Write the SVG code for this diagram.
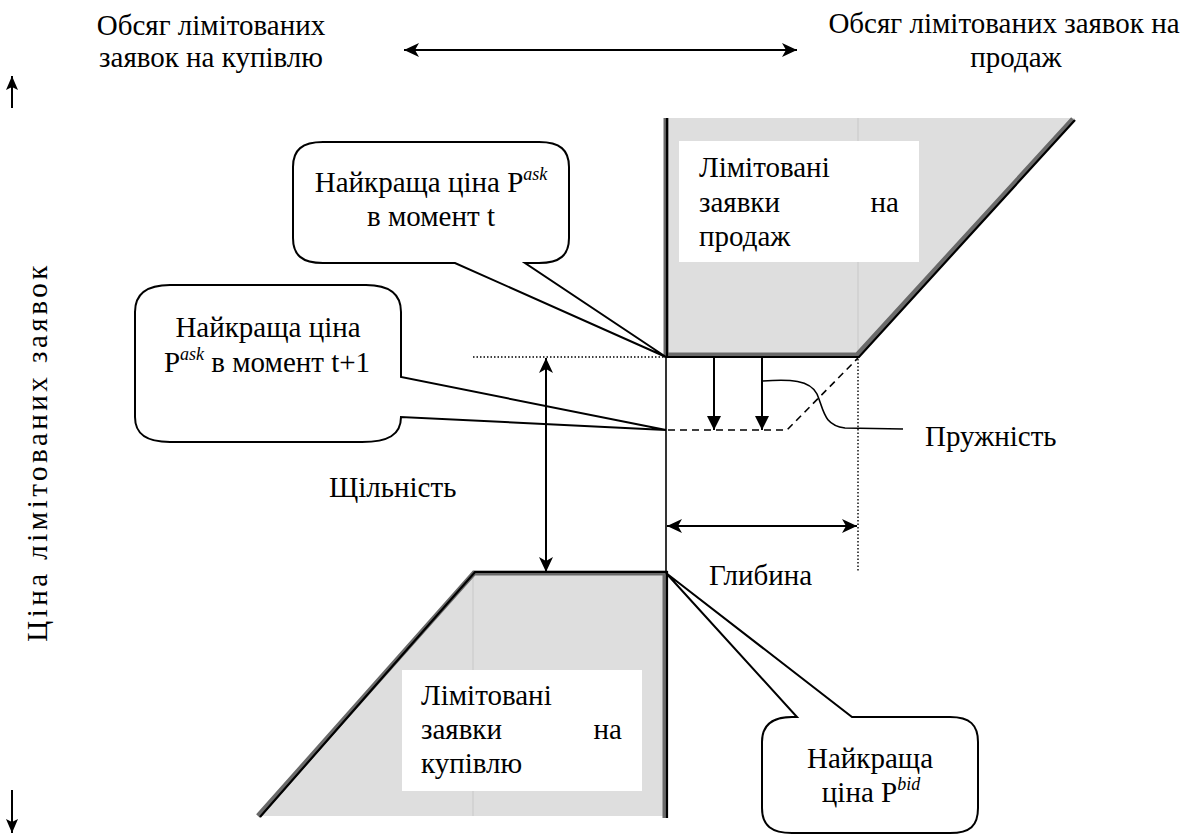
<svg xmlns="http://www.w3.org/2000/svg" width="1195" height="836" viewBox="0 0 1195 836">
<style>
  text { font-family: "Liberation Serif", "DejaVu Serif", serif; font-size: 29px; fill: #000; }
  .sup { font-size: 18px; font-style: italic; }
  .ln { fill: none; stroke: #000; stroke-width: 2; }
  .thin { fill: none; stroke: #000; stroke-width: 1.6; }
  .call { fill: #fff; stroke: #000; stroke-width: 2; stroke-linejoin: miter; }
  .dot { fill: none; stroke: #000; stroke-width: 1.4; stroke-dasharray: 1.5 2; }
  .dash { fill: none; stroke: #000; stroke-width: 1.6; stroke-dasharray: 7 5; }
  .band { fill: #dedede; stroke: none; }
  .split { stroke: #c8c8c8; stroke-width: 1; }
  .edgeg { fill: none; stroke: #6a6a6a; stroke-width: 5; stroke-linejoin: miter; }
  .edgek { fill: none; stroke: #000; stroke-width: 2.2; stroke-linejoin: miter; }
  .box { fill: #fff; stroke: none; }
</style>
<defs>
  <marker id="barb" markerUnits="userSpaceOnUse" markerWidth="16" markerHeight="16" refX="15" refY="7" orient="auto-start-reverse" viewBox="0 0 16 14">
    <path d="M0,0 L15,7 L0,14 L4,7 Z" fill="#000"/>
  </marker>
  <marker id="axisHead" markerUnits="userSpaceOnUse" markerWidth="14" markerHeight="12" refX="14" refY="6" orient="auto" viewBox="0 0 14 12">
    <path d="M0,0 L14,6 L0,12 L3,6 Z" fill="#000"/>
  </marker>
  <marker id="tri" markerUnits="userSpaceOnUse" markerWidth="14" markerHeight="16" refX="14" refY="7" orient="auto" viewBox="0 0 14 14">
    <path d="M0,0 L14,7 L0,14 Z" fill="#000"/>
  </marker>
</defs>

<g font-family="'Liberation Serif', 'DejaVu Serif', serif">
<g id="axis-buy-volume">
  <text x="211" y="35" text-anchor="middle">Обсяг лімітованих</text>
  <text x="211" y="67" text-anchor="middle">заявок на купівлю</text>
</g>
<g id="axis-sell-volume">
  <text x="1004" y="33" text-anchor="middle">Обсяг лімітованих заявок на</text>
  <text x="1016" y="67" text-anchor="middle">продаж</text>
</g>
<g id="axis-price">
  <text transform="translate(47,452) rotate(-90)" text-anchor="middle" style="letter-spacing:3.5px">Ціна лімітованих заявок</text>
</g>

<g id="sell-orders">
  <polygon class="band" points="666,118 1075,118 858,356 666,356"/>
  <line class="split" x1="858" y1="118" x2="858" y2="355"/>
  <polyline class="edgeg" points="666,118 666,355 857,355 1073,119"/>
  <polyline class="edgek" points="667,118 667,357 859,357 1075,120"/>
  <rect class="box" x="679" y="141" width="240" height="121"/>
  <text x="699" y="177">Лімітовані</text>
  <text x="699" y="212">заявки</text>
  <text x="899" y="212" text-anchor="end">на</text>
  <text x="699" y="246">продаж</text>
</g>

<g id="buy-orders">
  <polygon class="band" points="474,572 666,572 666,816 259,816"/>
  <line class="split" x1="473" y1="573" x2="473" y2="816"/>
  <polyline class="edgeg" points="258,816 474,573 665,573 665,818"/>
  <polyline class="edgek" points="260,817 475,572 667,572 667,818"/>
  <rect class="box" x="402" y="670" width="240" height="121"/>
  <text x="421" y="705">Лімітовані</text>
  <text x="421" y="739">заявки</text>
  <text x="622" y="739" text-anchor="end">на</text>
  <text x="421" y="773">купівлю</text>
</g>

<g id="callout-ask-t">
  <path class="call" d="M323,142 L539,142 C560,142 569,150 569,167 L569,238 C569,255 560,263 539,263 L525,263 L666,357 L455,263 L323,263 C302,263 293,255 293,238 L293,167 C293,150 302,142 323,142 Z"/>
  <text x="431" y="192" text-anchor="middle">Найкраща ціна P<tspan class="sup" dy="-12">ask</tspan></text>
  <text x="431" y="226" text-anchor="middle">в момент t</text>
</g>
<g id="callout-ask-t1">
  <path class="call" d="M170,285 L366,285 C390,285 401,295 401,312 L401,377 L666,430 L401,417 C401,435 388,442 362,442 L170,442 C146,442 135,434 135,417 L135,312 C135,295 146,285 170,285 Z"/>
  <text x="268" y="337" text-anchor="middle">Найкраща ціна</text>
  <text x="267" y="372" text-anchor="middle">P<tspan class="sup" dy="-12">ask</tspan><tspan dy="12"> в момент t+1</tspan></text>
</g>
<g id="callout-bid">
  <path class="call" d="M762,742 C762,725 772,717 792,717 L797,717 L666,573 L852,717 L950,717 C970,717 978,725 978,742 L978,808 C978,826 970,833 950,833 L792,833 C772,833 762,826 762,808 Z"/>
  <text x="870" y="768" text-anchor="middle">Найкраща</text>
  <text x="871" y="802" text-anchor="middle">ціна P<tspan class="sup" dy="-12">bid</tspan></text>
</g>

<g id="connectors">
  <line class="ln" x1="12" y1="108" x2="12" y2="76" marker-end="url(#axisHead)"/>
  <line class="ln" x1="12" y1="790" x2="12" y2="833" marker-end="url(#axisHead)"/>
  <line class="ln" x1="404" y1="50" x2="797" y2="50" marker-start="url(#barb)" marker-end="url(#barb)"/>
  <line class="thin" x1="666" y1="357" x2="666" y2="572"/>
  <line class="dot" x1="473" y1="357" x2="664" y2="357"/>
  <line class="dot" x1="858" y1="359" x2="858" y2="572"/>
  <polyline class="dash" points="668,430 787,430 858,358"/>
  <line class="ln" x1="714" y1="358" x2="714" y2="430" marker-end="url(#tri)"/>
  <line class="ln" x1="762" y1="358" x2="762" y2="430" marker-end="url(#tri)"/>
  <path class="thin" d="M763,381 C790,379 810,380 817,394 C824,410 823,425 845,428 L903,429"/>
  <line class="ln" x1="546" y1="358" x2="546" y2="572" marker-start="url(#barb)" marker-end="url(#barb)"/>
  <line class="ln" x1="667" y1="526" x2="857" y2="526" marker-start="url(#barb)" marker-end="url(#barb)"/>
</g>

<g id="measure-labels">
  <text x="925" y="446">Пружність</text>
  <text x="329" y="497">Щільність</text>
  <text x="709" y="585">Глибина</text>
</g>
</g>
</svg>
